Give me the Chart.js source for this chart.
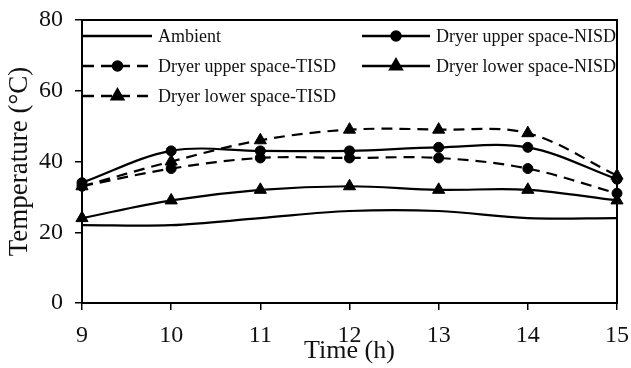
<!DOCTYPE html>
<html>
<head>
<meta charset="utf-8">
<script src="https://cdn.jsdelivr.net/npm/chart.js@4"></script>
<style>
  html, body { margin: 0; padding: 0; background: #fff; }
  #wrap { width: 631px; height: 368px; }
</style>
</head>
<body>
<div id="wrap"><canvas id="c" width="631" height="368"></canvas></div>
<script>
// time of day (h)
var hours = [9, 10, 11, 12, 13, 14, 15];
var yTicks = [0, 20, 40, 60, 80];

// temperatures (degC)
var ambient = [22, 22, 24, 26, 26, 24, 24];
var upperNISD = [34, 43, 43, 43, 44, 44, 35];
var upperTISD = [33, 38, 41, 41, 41, 38, 31];
var lowerNISD = [24, 29, 32, 33, 32, 32, 29];
var lowerTISD = [33, 40, 46, 49, 49, 48, 36];

var labels = ['Ambient', 'Dryer upper space-NISD', 'Dryer upper space-TISD', 'Dryer lower space-NISD', 'Dryer lower space-TISD'];

var FONT = "'Liberation Serif', 'Times New Roman', serif";
var DASH = [11, 7];

function pts(vals) {
  return vals.map(function (v, i) { return { x: hours[i], y: v }; });
}

function series(label, vals, marker, dashed) {
  return {
    label: label,
    data: pts(vals),
    borderColor: '#000',
    backgroundColor: '#000',
    borderWidth: 2.2,
    borderDash: dashed ? DASH : [],
    pointStyle: marker || false,
    pointRadius: marker === 'triangle' ? 7 : (marker ? 5 : 0),
    pointBorderWidth: 1,
    tension: 0.35,
    clip: false
  };
}

var frame = {
  id: 'frame',
  afterDraw: function (chart) {
    var a = chart.chartArea;
    var ctx = chart.ctx;
    ctx.save();
    ctx.strokeStyle = '#000';
    ctx.lineWidth = 2;
    ctx.strokeRect(a.left, a.top, a.right - a.left, a.bottom - a.top);
    ctx.restore();
  }
};

// two-column legend inside the plot, as in the figure
var boxLegend = {
  id: 'boxLegend',
  afterDraw: function (chart) {
    var a = chart.chartArea;
    var ctx = chart.ctx;
    var slots = [
      [0, 0], [1, 0],
      [0, 1], [1, 1],
      [0, 2]
    ];
    ctx.save();
    chart.data.datasets.forEach(function (ds, i) {
      var col = slots[i][0], row = slots[i][1];
      var x0 = a.left + (col ? 280 : 1);
      var x1 = x0 + (col ? 68 : 69);
      var y = a.top + 16 + row * 30;
      ctx.strokeStyle = '#000';
      ctx.lineWidth = 2.5;
      ctx.setLineDash(ds.borderDash || []);
      ctx.beginPath();
      ctx.moveTo(x0, y);
      ctx.lineTo(x1, y);
      ctx.stroke();
      ctx.setLineDash([]);
      if (ds.pointStyle) {
        ctx.fillStyle = '#000';
        Chart.helpers.drawPoint(ctx, {
          pointStyle: ds.pointStyle,
          radius: ds.pointStyle === 'triangle' ? 6.5 : 4.5,
          borderWidth: 1
        }, (x0 + x1) / 2, y);
        ctx.fill();
      }
      ctx.fillStyle = '#111';
      ctx.font = '18px ' + FONT;
      ctx.textBaseline = 'middle';
      ctx.textAlign = 'left';
      ctx.fillText(ds.label, x1 + 6, y + 1);
    });
    ctx.restore();
  }
};

new Chart(document.getElementById('c'), {
  type: 'line',
  data: {
    datasets: [
      series(labels[0], ambient, false, false),
      series(labels[1], upperNISD, 'circle', false),
      series(labels[2], upperTISD, 'circle', true),
      series(labels[3], lowerNISD, 'triangle', false),
      series(labels[4], lowerTISD, 'triangle', true)
    ]
  },
  options: {
    responsive: false,
    animation: false,
    devicePixelRatio: 1,
    layout: { padding: { top: 20, right: 14, left: 0, bottom: 0 } },
    plugins: {
      legend: { display: false },
      tooltip: { enabled: false }
    },
    scales: {
      x: {
        type: 'linear',
        min: hours[0],
        max: hours[hours.length - 1],
        afterFit: function (s) {
          s.height = 65;
          s.paddingLeft = 0;
          s.paddingRight = 0;
        },
        afterBuildTicks: function (s) {
          s.ticks = hours.map(function (h) { return { value: h }; });
        },
        border: { color: '#000', width: 2 },
        grid: { drawOnChartArea: false, drawTicks: true, tickLength: 7, color: '#000', lineWidth: 1.5 },
        ticks: { color: '#111', font: { family: FONT, size: 24 }, padding: 11 },
        title: {
          display: true,
          text: 'Time (h)',
          color: '#111',
          font: { family: FONT, size: 26 },
          padding: { top: 0, bottom: 1 }
        }
      },
      y: {
        min: 0,
        max: 80,
        afterFit: function (s) {
          s.width = 82;
          s.paddingTop = 0;
          s.paddingBottom = 0;
        },
        afterBuildTicks: function (s) {
          s.ticks = yTicks.map(function (v) { return { value: v }; });
        },
        border: { color: '#000', width: 2 },
        grid: { drawOnChartArea: false, drawTicks: true, tickLength: 7, color: '#000', lineWidth: 1.5 },
        ticks: { color: '#111', font: { family: FONT, size: 24 }, padding: 12 },
        title: {
          display: true,
          text: 'Temperature (°C)',
          color: '#111',
          font: { family: FONT, size: 27 },
          padding: { top: 4, bottom: 0 }
        }
      }
    }
  },
  plugins: [frame, boxLegend]
});
</script>
</body>
</html>
